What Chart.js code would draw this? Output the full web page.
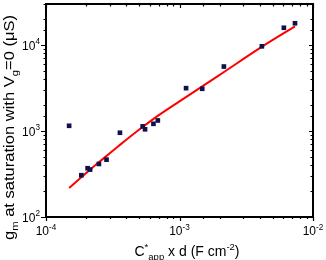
<!DOCTYPE html>
<html lang="en">
<head>
<meta charset="UTF-8" />
<title>gm vs C*app x d</title>
<style>
  html, body { margin: 0; padding: 0; background: #fff; }
  #wrap { width: 326px; height: 260px; }
</style>
</head>
<body>
<div id="wrap"><canvas id="gmChart" width="326" height="260"></canvas></div>
<script src="https://cdn.jsdelivr.net/npm/chart.js"></script>
<script>
  // measured points
  const capX = [1.49e-4, 1.84e-4, 2.05e-4, 2.14e-4, 2.49e-4, 2.84e-4, 3.58e-4, 5.3e-4, 5.52e-4,
                6.38e-4, 6.88e-4, 1.12e-3, 1.48e-3, 2.15e-3, 4.14e-3, 6.05e-3, 7.33e-3];
  const gmY  = [1150, 306, 369, 356, 414, 464, 955, 1132, 1047,
                1213, 1327, 3150, 3100, 5620, 9660, 15870, 17900];

  // red fit curve
  const fitX = [1.49e-4, 2.0e-4, 2.5e-4, 3.5e-4, 5.0e-4, 7.0e-4, 1.0e-3, 2.0e-3, 4.1e-3, 7.33e-3];
  const fitY = [217, 325, 435, 670, 1040, 1530, 2213, 4500, 9450, 16500];

  // axis decades and their exponent labels
  const xDecades = [1e-4, 1e-3, 1e-2];
  const xExp = ['-4', '-3', '-2'];
  const yDecades = [1e2, 1e3, 1e4];
  const yExp = ['2', '3', '4'];

  const FONT = '"Liberation Sans", Arial, sans-serif';

  function segWidth(ctx, segs, size) {
    let w = 0;
    segs.forEach(s => {
      const fs = s.k ? size * 0.68 : size;
      ctx.font = fs + 'px ' + FONT;
      w += ctx.measureText(s.t).width;
    });
    return w;
  }

  // draws segments starting at (0,0) on the baseline
  function drawSegs(ctx, segs, size) {
    let x = 0;
    segs.forEach(s => {
      const fs = s.k ? size * 0.68 : size;
      const dy = s.k === 'sup' ? -size * 0.42 : (s.k === 'sub' ? size * 0.25 : 0);
      ctx.font = fs + 'px ' + FONT;
      ctx.fillText(s.t, x, dy);
      x += ctx.measureText(s.t).width;
    });
  }

  function isDecade(v) {
    const l = Math.log10(v);
    return Math.abs(l - Math.round(l)) < 1e-6;
  }

  const framePlugin = {
    id: 'frame',
    afterDraw(chart) {
      const ctx = chart.ctx;
      const a = chart.chartArea;
      const xs = chart.scales.x, ys = chart.scales.y;
      ctx.save();
      ctx.fillStyle = '#000';
      ctx.strokeStyle = '#000';

      // ticks
      ctx.lineWidth = 1.2;
      ctx.beginPath();
      xs.ticks.forEach(t => {
        const px = Math.round(xs.getPixelForValue(t.value)) + 0.5;
        const maj = isDecade(t.value);
        const out = maj ? 4 : 2;
        const inn = maj ? 4 : 2.5;
        ctx.moveTo(px, a.bottom); ctx.lineTo(px, a.bottom + out);
        ctx.moveTo(px, a.top); ctx.lineTo(px, a.top + inn);
      });
      ys.ticks.forEach(t => {
        const py = Math.round(ys.getPixelForValue(t.value)) + 0.5;
        const maj = isDecade(t.value);
        const out = maj ? 5 : 2.5;
        const inn = maj ? 4 : 2.5;
        ctx.moveTo(a.left, py); ctx.lineTo(a.left - out, py);
        ctx.moveTo(a.right, py); ctx.lineTo(a.right - inn, py);
      });
      ctx.stroke();

      // frame
      ctx.lineWidth = 2;
      ctx.strokeRect(a.left, a.top, a.right - a.left, a.bottom - a.top);

      // x tick labels
      xDecades.forEach((v, i) => {
        const segs = [{ t: '10' }, { t: xExp[i], k: 'sup' }];
        const w = segWidth(ctx, segs, 12);
        ctx.save();
        ctx.translate(xs.getPixelForValue(v) - w / 2, 235);
        drawSegs(ctx, segs, 12);
        ctx.restore();
      });

      // y tick labels
      yDecades.forEach((v, i) => {
        const segs = [{ t: '10' }, { t: yExp[i], k: 'sup' }];
        const w = segWidth(ctx, segs, 12);
        ctx.save();
        ctx.translate(40 - w, ys.getPixelForValue(v) + 4.5);
        drawSegs(ctx, segs, 12);
        ctx.restore();
      });

      // x title
      const xt = [{ t: 'C' }, { t: '*', k: 'sup' }, { t: 'app', k: 'sub' }, { t: ' x d (F cm' },
                  { t: '-2', k: 'sup' }, { t: ')' }];
      const xw = segWidth(ctx, xt, 14);
      ctx.save();
      ctx.translate(187 - xw / 2, 256);
      drawSegs(ctx, xt, 14);
      ctx.restore();

      // y title
      const yt = [{ t: 'g' }, { t: 'm', k: 'sub' }, { t: ' at saturation with V' },
                  { t: 'g', k: 'sub' }, { t: '=0 (\u03bcS)' }];
      const yw = segWidth(ctx, yt, 14);
      const stretch = 225 / yw;
      ctx.save();
      ctx.translate(14, 127.5);
      ctx.rotate(-Math.PI / 2);
      ctx.scale(stretch, 1);
      ctx.translate(-yw / 2, 0);
      drawSegs(ctx, yt, 14);
      ctx.restore();

      ctx.restore();
    }
  };

  new Chart(document.getElementById('gmChart'), {
    type: 'scatter',
    data: {
      datasets: [
        {
          label: 'data',
          data: capX.map((x, i) => ({ x: x, y: gmY[i] })),
          pointStyle: 'rect',
          pointRadius: 3.3,
          pointBorderWidth: 0,
          backgroundColor: '#10104a',
          borderColor: '#10104a'
        },
        {
          label: 'fit',
          data: fitX.map((x, i) => ({ x: x, y: fitY[i] })),
          showLine: true,
          pointRadius: 0,
          borderColor: '#ff0000',
          borderWidth: 2,
          tension: 0.4
        }
      ]
    },
    options: {
      responsive: false,
      animation: false,
      events: [],
      layout: { padding: { left: 0, right: 13, top: 2, bottom: 0 } },
      plugins: { legend: { display: false }, tooltip: { enabled: false } },
      scales: {
        x: {
          type: 'logarithmic',
          min: 1e-4,
          max: 1e-2,
          grid: { display: false },
          border: { display: false },
          ticks: { display: false, autoSkip: false },
          afterFit(s) { s.height = 43; }
        },
        y: {
          type: 'logarithmic',
          min: 100,
          max: 30000,
          grid: { display: false },
          border: { display: false },
          ticks: { display: false, autoSkip: false },
          afterFit(s) { s.width = 46; }
        }
      }
    },
    plugins: [framePlugin]
  });
</script>
</body>
</html>
